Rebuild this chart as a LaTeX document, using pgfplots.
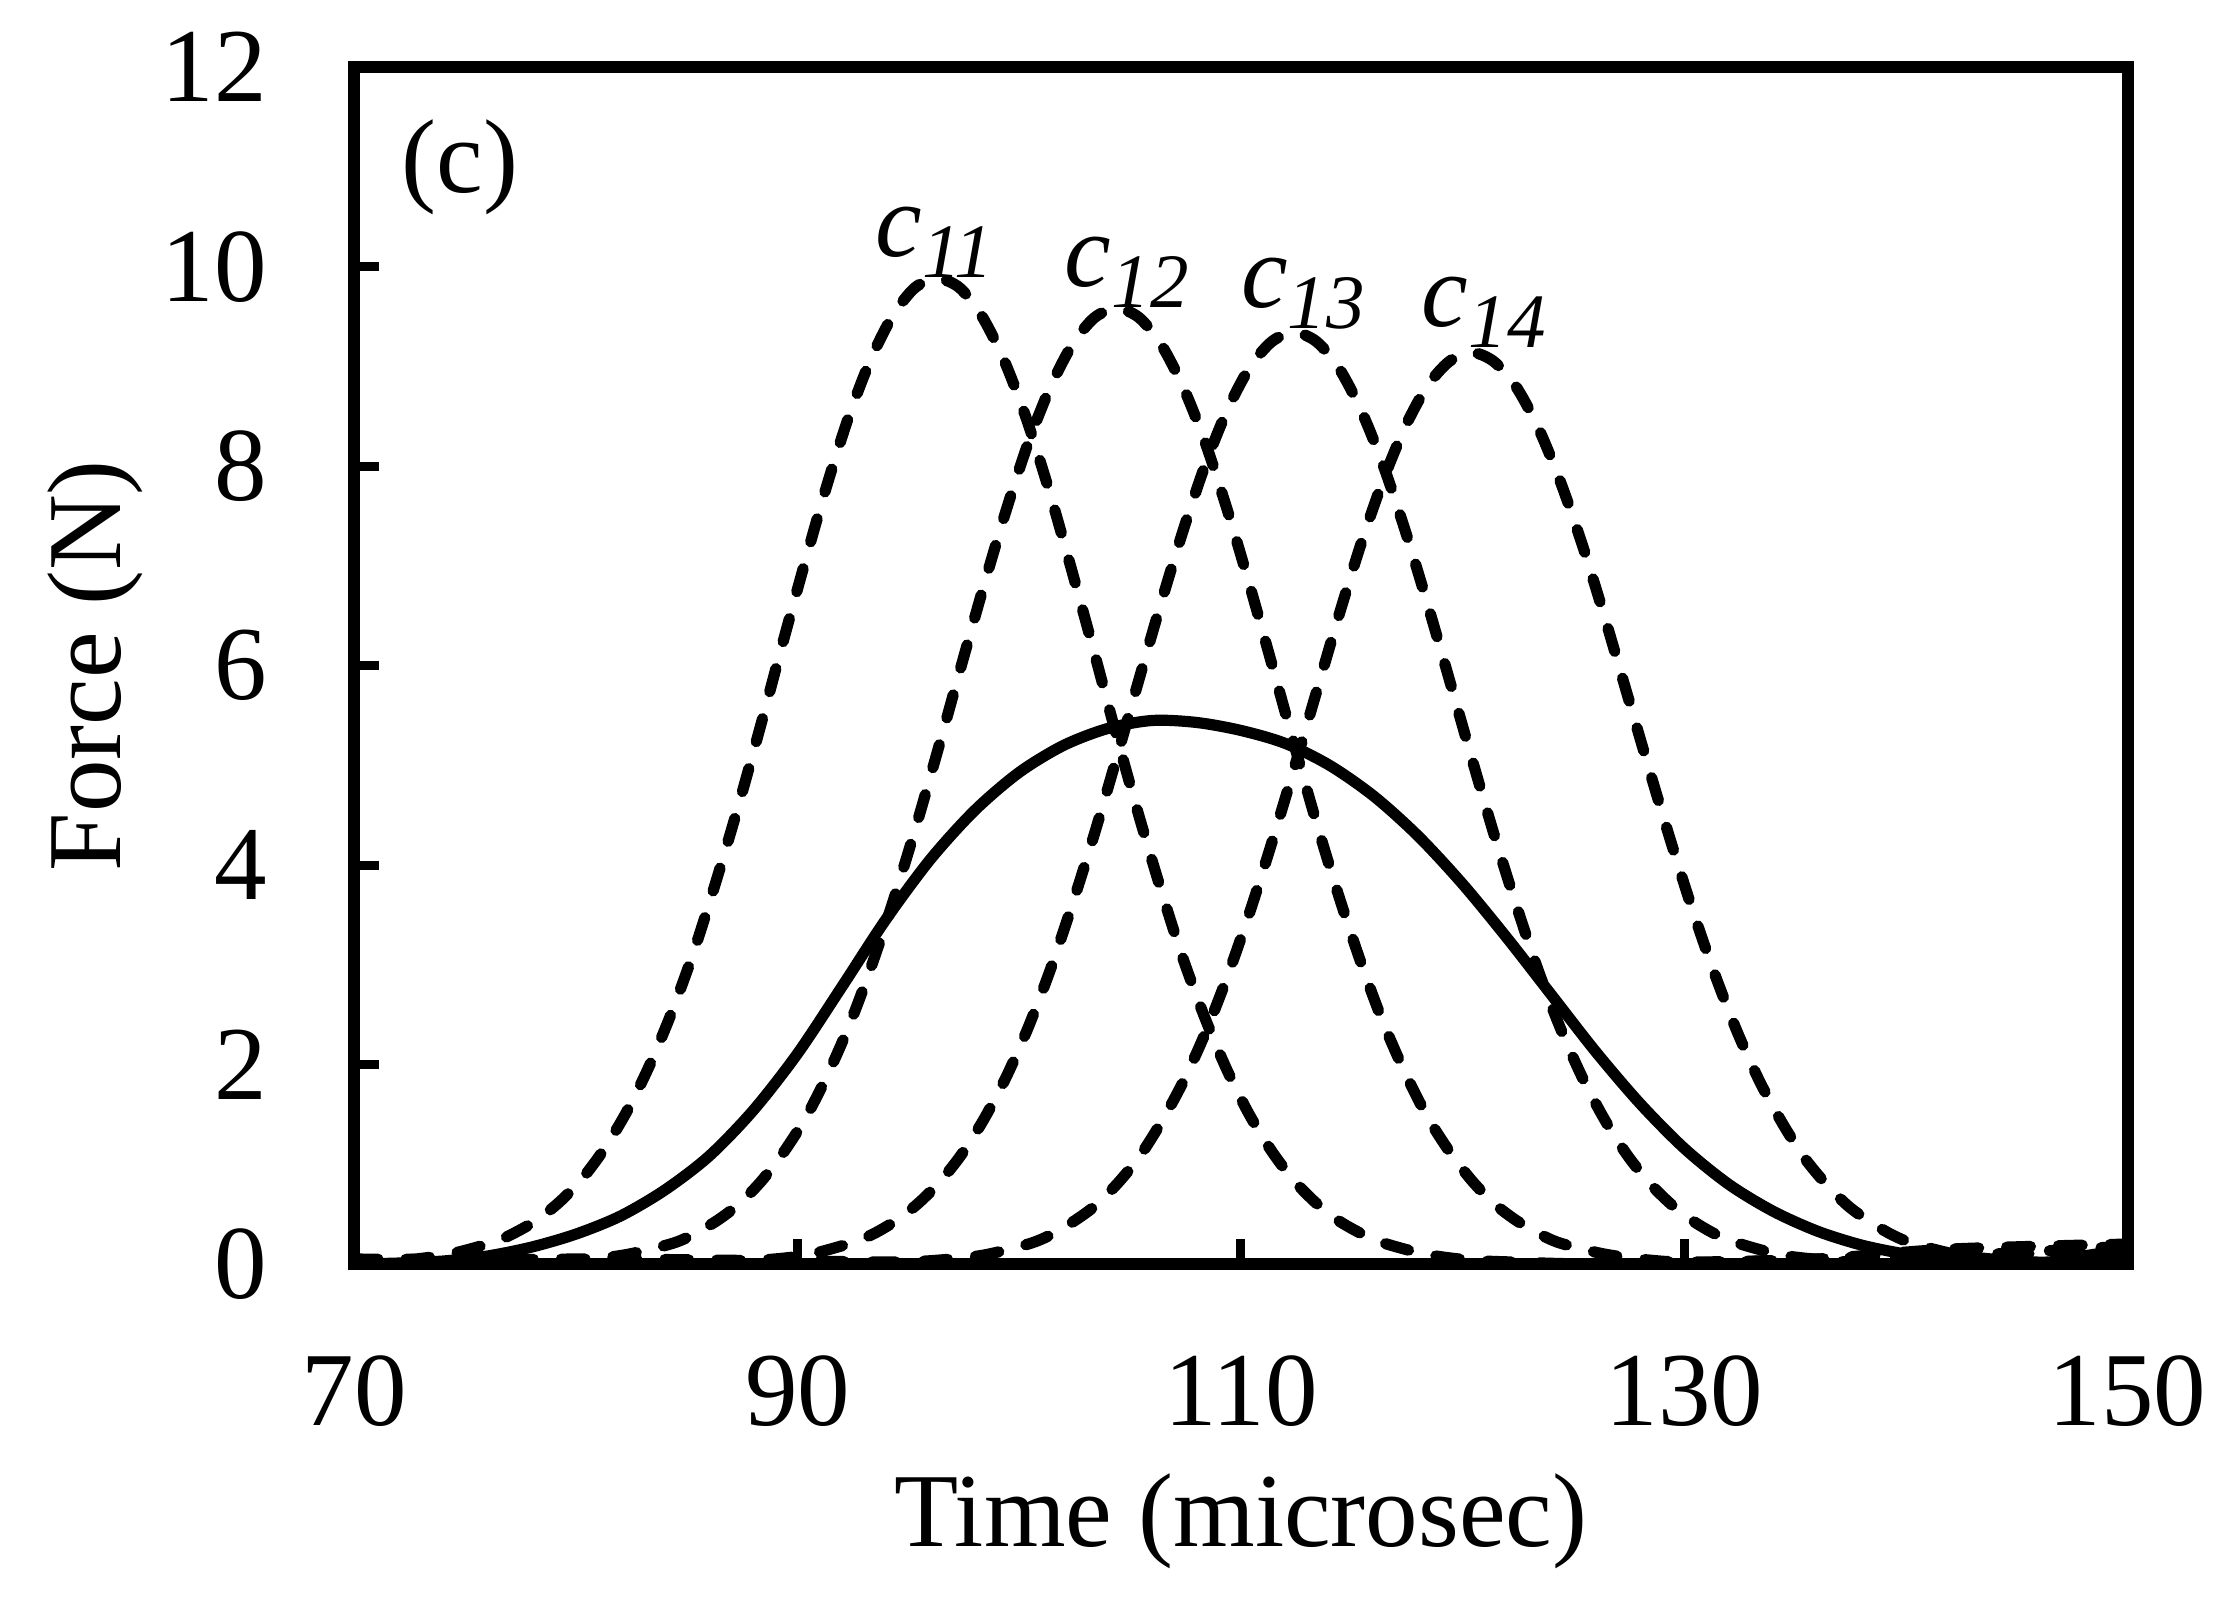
\documentclass[border=0pt]{standalone}
\usepackage{fontspec}
\setmainfont{Liberation Serif}
\usepackage{pgfplots}
\pgfplotsset{compat=1.18}
\begin{document}
\begin{tikzpicture}[font=\fontsize{15}{18}\selectfont]
\begin{axis}[
  scale only axis,
  width=253.4pt, height=171pt,
  xmin=70, xmax=150, ymin=0, ymax=12,
  xtick={70,90,110,130,150},
  ytick={0,2,4,6,8,10,12},
  tick pos=left,
  tick align=inside,
  major tick length=3.6pt,
  every tick/.style={line width=1.3pt, black},
  axis line style={line width=1.7pt},
  /pgf/number format/assume math mode=true,
  xticklabel style={anchor=base, inner sep=0pt, yshift=-23pt},
  yticklabel style={anchor=east, inner sep=0pt, xshift=-12.3pt},
  xlabel={Time (microsec)},
  ylabel={Force (N)},
  xlabel style={at={(axis description cs:0.5,-0.2363)}, anchor=base, inner sep=0pt},
  ylabel style={at={(axis description cs:-0.132,0.5)}, anchor=base, rotate=0, inner sep=0pt},
  clip=true,
  dashed curve/.style={black, line width=1.6pt, line cap=round, dash pattern=on 3.4pt off 4.0pt, smooth},
]
% solid (total)
\addplot[black, line width=1.6pt, smooth] coordinates {
(70,0.0) (72,0.01) (74,0.03) (76,0.08) (78,0.17) (80,0.30) (82,0.48) (84,0.74)
(86,1.08) (88,1.54) (90,2.11) (92,2.78) (94,3.46) (96,4.06) (98,4.55) (100,4.93)
(102,5.20) (104,5.37) (106,5.45) (108,5.43) (110,5.35) (112,5.22) (114,5.00)
(116,4.69) (118,4.29) (120,3.81) (122,3.27) (124,2.70) (126,2.13) (128,1.61)
(130,1.16) (132,0.80) (134,0.53) (136,0.33) (138,0.19) (140,0.10) (142,0.05)
(144,0.02) (146,0.01) (150,0.0)
};
% c11
\addplot[dashed curve] coordinates {
(70,0.02) (72.3,0.04) (74.3,0.10) (76.3,0.22) (77.3,0.32) (78.3,0.45) (79.3,0.63)
(80.3,0.86) (81.3,1.16) (82.3,1.53) (83.3,1.98) (84.3,2.51) (85.3,3.12) (86.3,3.82)
(87.3,4.57) (88.3,5.37) (89.3,6.20) (90.3,7.01) (91.3,7.79) (92.3,8.49) (93.3,9.07)
(94.3,9.51) (95.3,9.79) (96.3,9.88) (97.3,9.79) (98.3,9.51) (99.3,9.07) (100.3,8.49)
(101.3,7.79) (102.3,7.01) (103.3,6.20) (104.3,5.37) (105.3,4.57) (106.3,3.82)
(107.3,3.12) (108.3,2.51) (109.3,1.98) (110.3,1.53) (111.3,1.16) (112.3,0.86)
(113.3,0.63) (114.3,0.45) (115.3,0.32) (116.3,0.22) (118.3,0.10) (120.3,0.04)
(122.3,0.02) (126,0.0) (132,0.02) (140,0.08) (150,0.12)
};
% c12
\addplot[dashed curve] coordinates {
(70,0.03) (78.4,0.02) (80.4,0.04) (82.4,0.10) (84.4,0.21) (85.4,0.31) (86.4,0.44)
(87.4,0.61) (88.4,0.84) (89.4,1.13) (90.4,1.48) (91.4,1.92) (92.4,2.43) (93.4,3.03)
(94.4,3.70) (95.4,4.43) (96.4,5.21) (97.4,6.01) (98.4,6.80) (99.4,7.55) (100.4,8.23)
(101.4,8.79) (102.4,9.22) (103.4,9.49) (104.4,9.58) (105.4,9.49) (106.4,9.22)
(107.4,8.79) (108.4,8.23) (109.4,7.55) (110.4,6.80) (111.4,6.01) (112.4,5.21)
(113.4,4.43) (114.4,3.70) (115.4,3.03) (116.4,2.43) (117.4,1.92) (118.4,1.48)
(119.4,1.13) (120.4,0.84) (121.4,0.61) (122.4,0.44) (123.4,0.31) (124.4,0.21)
(126.4,0.10) (128.4,0.04) (130.4,0.02) (136,0.05) (142,0.15) (150,0.20)
};
% c13
\addplot[dashed curve] coordinates {
(70,0.05) (78,0.04) (86.4,0.02) (88.4,0.04) (90.4,0.09) (92.4,0.21) (93.4,0.30)
(94.4,0.43) (95.4,0.60) (96.4,0.82) (97.4,1.10) (98.4,1.45) (99.4,1.87) (100.4,2.37)
(101.4,2.95) (102.4,3.61) (103.4,4.32) (104.4,5.08) (105.4,5.86) (106.4,6.63)
(107.4,7.36) (108.4,8.02) (109.4,8.57) (110.4,8.99) (111.4,9.25) (112.4,9.34)
(113.4,9.25) (114.4,8.99) (115.4,8.57) (116.4,8.02) (117.4,7.36) (118.4,6.63)
(119.4,5.86) (120.4,5.08) (121.4,4.32) (122.4,3.61) (123.4,2.95) (124.4,2.37)
(125.4,1.87) (126.4,1.45) (127.4,1.10) (128.4,0.82) (129.4,0.60) (130.4,0.43)
(131.4,0.30) (132.4,0.21) (134.4,0.09) (136.4,0.04) (138.4,0.02) (144,0.10) (150,0.18)
};
% c14
\addplot[dashed curve] coordinates {
(70,0.02) (80,0.05) (90,0.03) (94.4,0.02) (96.4,0.04) (98.4,0.09) (100.4,0.20)
(101.4,0.29) (102.4,0.42) (103.4,0.58) (104.4,0.80) (105.4,1.07) (106.4,1.42)
(107.4,1.83) (108.4,2.32) (109.4,2.89) (110.4,3.53) (111.4,4.23) (112.4,4.97)
(113.4,5.73) (114.4,6.49) (115.4,7.21) (116.4,7.85) (117.4,8.39) (118.4,8.80)
(119.4,9.05) (120.4,9.14) (121.4,9.05) (122.4,8.80) (123.4,8.39) (124.4,7.85)
(125.4,7.21) (126.4,6.49) (127.4,5.73) (128.4,4.97) (129.4,4.23) (130.4,3.53)
(131.4,2.89) (132.4,2.32) (133.4,1.83) (134.4,1.42) (135.4,1.07) (136.4,0.80)
(137.4,0.58) (138.4,0.42) (139.4,0.29) (140.4,0.20) (142.4,0.09) (144.4,0.04)
(146.4,0.02) (148,0.08) (150,0.15)
};
\node[anchor=base west, inner sep=0pt] at (axis cs:72.07,10.74) {(c)};
\node[anchor=base west, inner sep=0pt] at (axis cs:93.45,10.1) {\itshape c\raisebox{-3pt}{\fontsize{11}{13}\selectfont 11}};
\node[anchor=base west, inner sep=0pt] at (axis cs:102.0,9.8) {\itshape c\raisebox{-3pt}{\fontsize{11}{13}\selectfont 12}};
\node[anchor=base west, inner sep=0pt] at (axis cs:109.95,9.59) {\itshape c\raisebox{-3pt}{\fontsize{11}{13}\selectfont 13}};
\node[anchor=base west, inner sep=0pt] at (axis cs:118.1,9.4) {\itshape c\raisebox{-3pt}{\fontsize{11}{13}\selectfont 14}};
\end{axis}
\path (-50.6pt,-49.3pt) rectangle (269.3pt,180.6pt);
\end{tikzpicture}
\end{document}
